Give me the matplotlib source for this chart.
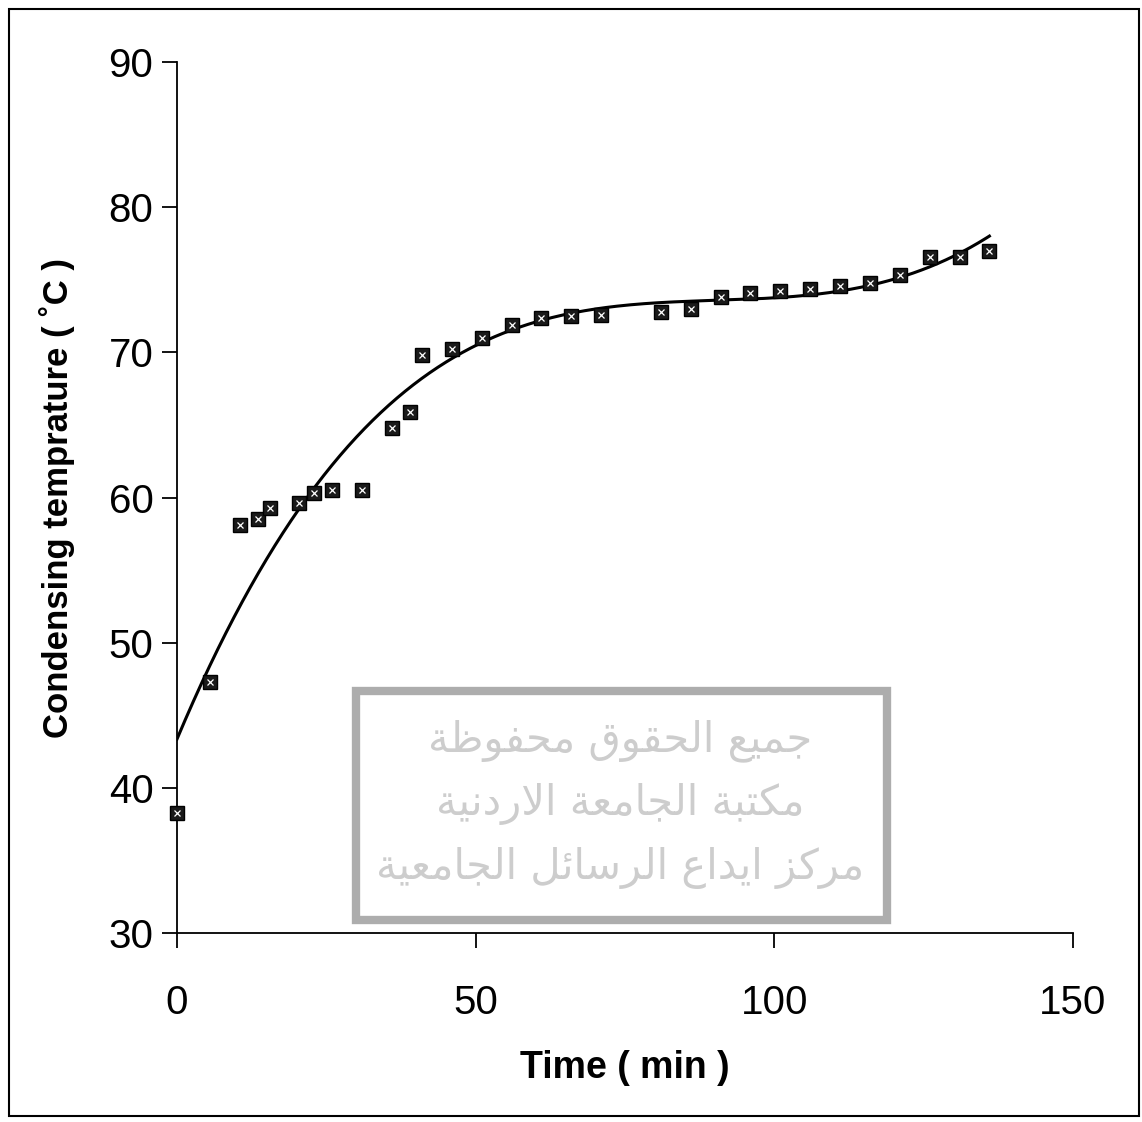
import matplotlib.pyplot as plt
import numpy as np
from matplotlib.patches import Rectangle

time_min = [0, 5.5, 10.5, 13.5, 15.5, 20.5, 23, 26, 31, 36, 39, 41, 46, 51, 56,
            61, 66, 71, 81, 86, 91, 96, 101, 106, 111, 116, 121, 126, 131, 136]
temp_c = [38.3, 47.3, 58.1, 58.5, 59.3, 59.6, 60.3, 60.5, 60.5, 64.8, 65.9, 69.8,
          70.2, 71.0, 71.9, 72.4, 72.5, 72.6, 72.8, 73.0, 73.8, 74.1, 74.2, 74.4,
          74.6, 74.8, 75.3, 76.6, 76.6, 77.0]

x_ticks = [0, 50, 100, 150]
y_ticks = [30, 40, 50, 60, 70, 80, 90]

watermark = ["جميع الحقوق محفوظة", "مكتبة الجامعة الاردنية", "مركز ايداع الرسائل الجامعية"]

# arabic presentation forms: iso, fin, ini, med
FORMS = {
    "ا": (0xFE8D, 0xFE8E, None, None), "ب": (0xFE8F, 0xFE90, 0xFE91, 0xFE92),
    "ة": (0xFE93, 0xFE94, None, None), "ت": (0xFE95, 0xFE96, 0xFE97, 0xFE98),
    "ج": (0xFE9D, 0xFE9E, 0xFE9F, 0xFEA0), "ح": (0xFEA1, 0xFEA2, 0xFEA3, 0xFEA4),
    "د": (0xFEA9, 0xFEAA, None, None), "ر": (0xFEAD, 0xFEAE, None, None),
    "ز": (0xFEAF, 0xFEB0, None, None), "س": (0xFEB1, 0xFEB2, 0xFEB3, 0xFEB4),
    "ظ": (0xFEC5, 0xFEC6, 0xFEC7, 0xFEC8), "ع": (0xFEC9, 0xFECA, 0xFECB, 0xFECC),
    "ف": (0xFED1, 0xFED2, 0xFED3, 0xFED4), "ق": (0xFED5, 0xFED6, 0xFED7, 0xFED8),
    "ك": (0xFED9, 0xFEDA, 0xFEDB, 0xFEDC), "ل": (0xFEDD, 0xFEDE, 0xFEDF, 0xFEE0),
    "م": (0xFEE1, 0xFEE2, 0xFEE3, 0xFEE4), "ن": (0xFEE5, 0xFEE6, 0xFEE7, 0xFEE8),
    "و": (0xFEED, 0xFEEE, None, None), "ي": (0xFEF1, 0xFEF2, 0xFEF3, 0xFEF4),
    "ئ": (0xFE89, 0xFE8A, 0xFE8B, 0xFE8C),
}


def shape(text):
    # crude contextual shaping, then reversed for left-to-right drawing
    out = []
    chars = list(text)
    i = 0
    while i < len(chars):
        c = chars[i]
        if c not in FORMS:
            out.append(c)
            i += 1
            continue
        prev = chars[i - 1] if i > 0 else None
        joined_prev = prev in FORMS and FORMS[prev][2] is not None
        if c == "ل" and i + 1 < len(chars) and chars[i + 1] == "ا":
            out.append(chr(0xFEFC if joined_prev else 0xFEFB))
            i += 2
            continue
        nxt = chars[i + 1] if i + 1 < len(chars) else None
        joins_next = FORMS[c][2] is not None and nxt in FORMS
        iso, fin, ini, med = FORMS[c]
        if joined_prev and joins_next:
            g = med
        elif joined_prev:
            g = fin
        elif joins_next:
            g = ini
        else:
            g = iso
        out.append(chr(g))
        i += 1
    return "".join(out[::-1])


plt.rcParams["font.family"] = ["Liberation Sans", "DejaVu Sans"]

fig = plt.figure(figsize=(11.42, 11.22), dpi=100)
ax = fig.add_axes([0.155, 0.1684, 0.7846, 0.7763])

# cubic trend line through the measurements
coef = np.polyfit(time_min, temp_c, 3)
xf = np.linspace(0, max(time_min), 300)
ax.plot(xf, np.polyval(coef, xf), color="black", lw=2.2, zorder=3)

ax.plot(time_min, temp_c, "s", ms=10, mfc="#1a1a1a", mec="black", mew=1,
        zorder=4, clip_on=False)
ax.plot(time_min, temp_c, "x", ms=4.5, mec="white", mew=0.9, zorder=5, clip_on=False)

ax.set_xlim(0, 150)
ax.set_ylim(30, 90)
ax.set_xticks(x_ticks)
ax.set_yticks(y_ticks)
ax.spines["top"].set_visible(False)
ax.spines["right"].set_visible(False)
for s in ("left", "bottom"):
    ax.spines[s].set_linewidth(1.3)
ax.tick_params(axis="both", direction="out", length=11, width=1.3, labelsize=29)
ax.tick_params(axis="x", pad=26)
ax.tick_params(axis="y", pad=6)
ax.set_xlabel("Time ( min )", fontsize=27, fontweight="bold", labelpad=20)
ax.set_ylabel("Condensing temprature ( ˚C )", fontsize=25, fontweight="bold", labelpad=24)

# watermark box
fig.patches.append(Rectangle((0.312, 0.180), 0.465, 0.204, transform=fig.transFigure,
                             facecolor="white", edgecolor="#adadad", lw=6, zorder=10))
for k, line in enumerate(watermark):
    fig.text(0.543, 0.340 - k * 0.057, shape(line), family=["DejaVu Sans"], fontsize=30,
             color="#cdcdcd", ha="center", va="center", zorder=11)

# page border of the scan
fig.patches.append(Rectangle((0.008, 0.005), 0.989, 0.987, transform=fig.transFigure,
                             fill=False, edgecolor="black", lw=1.5))

fig.savefig("out.png", dpi=100)
